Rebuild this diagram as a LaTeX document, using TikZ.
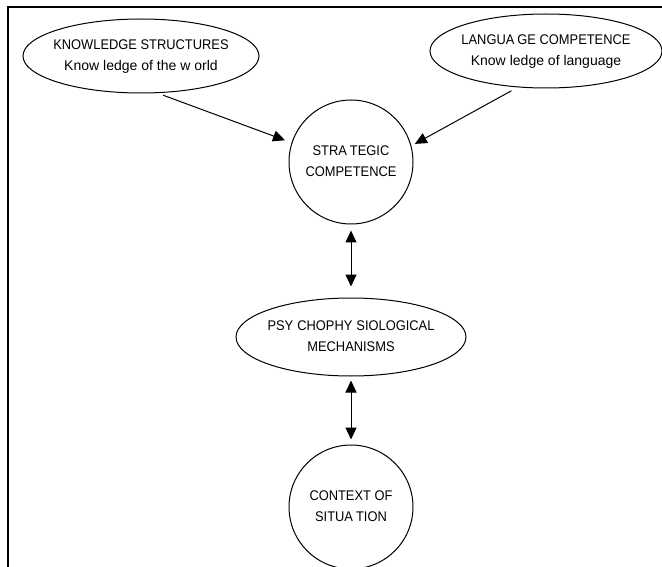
\documentclass[tikz,border=0pt]{standalone}
\usepackage{fontspec}
\setmainfont{Liberation Sans}
\newfontfamily\capsfont{Liberation Sans}[FakeStretch=0.92]
\usetikzlibrary{shapes.geometric,arrows.meta}
% centred lines, set a little low, whose width does not enlarge the surrounding shape
\newcommand\ovaltext[1]{\makebox[0pt]{\raisebox{-2.5pt}{\begin{tabular}{@{}c@{}}#1\end{tabular}}}}
\begin{document}
\begin{tikzpicture}[x=1pt,y=-1pt,
  every node/.style={font=\fontsize{14}{20.5}\selectfont, align=center, inner sep=0pt},
  oval/.style={draw, line width=1pt, ellipse},
  disc/.style={draw, line width=1pt, circle, minimum size=124pt},
  link/.style={line width=1pt, -{Triangle[length=12pt,width=11pt]}},
  twoway/.style={line width=1pt, {Triangle[length=12pt,width=11pt]}-{Triangle[length=12pt,width=11pt]}}]
  \useasboundingbox (0,0) rectangle (662,567);
  % frame (only the left and top edges fall inside the page)
  \draw[line width=1.6pt] (8,570) -- (8,7) -- (665,7);

  \node[oval, minimum width=236pt, minimum height=74pt] (kn) at (141,56)
    {\ovaltext{\capsfont KNOWLEDGE STRUCTURES\\Know\kern4pt ledge of the w\kern4pt orld}};
  \node[oval, minimum width=232pt, minimum height=74pt] (lc) at (546,51)
    {\ovaltext{\capsfont LANGUA\kern3pt GE COMPETENCE\\Know\kern4pt ledge of language}};
  \node[disc] (sc) at (351,162)
    {\ovaltext{\capsfont STRA\kern3pt TEGIC\\\capsfont COMPETENCE}};
  \node[oval, minimum width=230pt, minimum height=78pt] (ps) at (351,337)
    {\ovaltext{\capsfont PSY\kern4pt CHOPHY\kern4pt SIOLOGICAL\\\capsfont MECHANISMS}};
  \node[disc] (cs) at (351,507)
    {\ovaltext{\capsfont CONTEXT OF\\\capsfont SITUA\kern3pt TION}};

  \draw[link, shorten <=6pt, shorten >=7pt] (kn.-66) -- (sc.162);
  \draw[link, shorten <=7pt, shorten >=4pt] (lc.-128) -- (sc.15);
  \draw[twoway, shorten <=6pt, shorten >=11pt] (sc.south) -- (ps.north);
  \draw[twoway, shorten <=4pt, shorten >=5pt] (ps.south) -- (cs.north);
\end{tikzpicture}
\end{document}
